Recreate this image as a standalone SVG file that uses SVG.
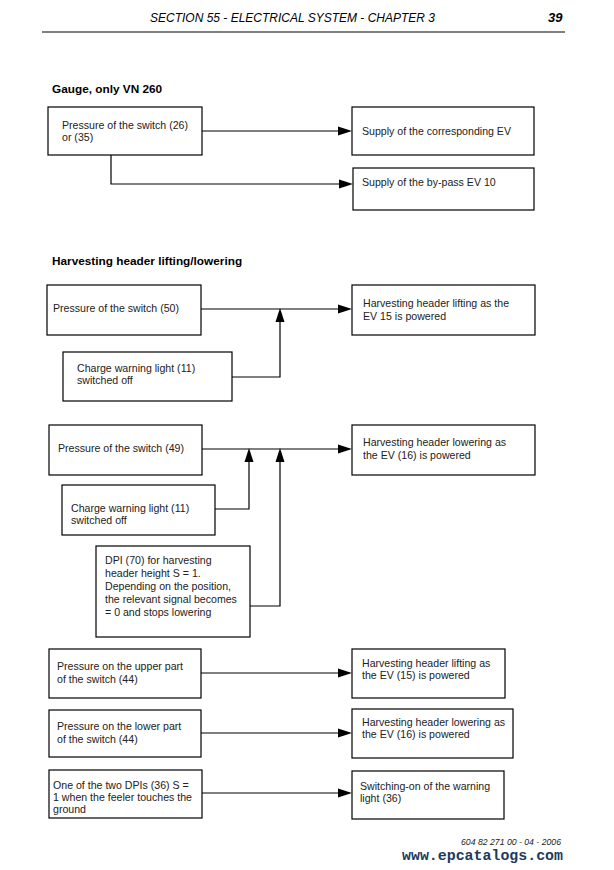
<svg xmlns="http://www.w3.org/2000/svg" width="614" height="870" viewBox="0 0 614 870">
<defs>
<style>
.t{font-family:"Liberation Sans",Arial,sans-serif;font-size:10.6px;fill:#222}
.h{font-family:"Liberation Sans",Arial,sans-serif;font-size:11.8px;font-weight:bold;fill:#000}
.box{fill:#fff;stroke:#000;stroke-width:1.2}
.ln{fill:none;stroke:#000;stroke-width:1.2}
.ah{fill:#000}
</style>
</defs>
<rect width="614" height="870" fill="#fff"/>
<g id="header">
<text x="150" y="22" font-family="Liberation Sans,Arial,sans-serif" font-size="12" font-style="italic" textLength="285" lengthAdjust="spacingAndGlyphs">SECTION 55 - ELECTRICAL SYSTEM - CHAPTER 3</text>
<text x="548" y="22" font-family="Liberation Sans,Arial,sans-serif" font-size="13" font-style="italic" font-weight="bold">39</text>
<line x1="42" y1="32" x2="565" y2="32" stroke="#000" stroke-width="1.2"/>
</g>
<text class="h" x="52" y="93">Gauge, only VN 260</text>
<text class="h" x="52" y="265">Harvesting header lifting/lowering</text>

<g id="connectors">
<path class="ln" d="M202 131H340"/>
<polygon class="ah" points="352,131 338,126.5 338,135.5"/>
<path class="ln" d="M111 155V184H341"/>
<polygon class="ah" points="353,184 339,179.5 339,188.5"/>

<path class="ln" d="M201 309H340"/>
<polygon class="ah" points="352,309 338,304.5 338,313.5"/>
<path class="ln" d="M232 377H280V320"/>
<polygon class="ah" points="280,308 275.5,322 284.5,322"/>

<path class="ln" d="M202 449H340"/>
<polygon class="ah" points="352,449 338,444.5 338,453.5"/>
<path class="ln" d="M215 509H249V460"/>
<polygon class="ah" points="249,448 244.5,462 253.5,462"/>
<path class="ln" d="M250 606H280V460"/>
<polygon class="ah" points="280,448 275.5,462 284.5,462"/>

<path class="ln" d="M201 673H340"/>
<polygon class="ah" points="352,673 338,668.5 338,677.5"/>
<path class="ln" d="M201 733H340"/>
<polygon class="ah" points="352,733 338,728.5 338,737.5"/>
<path class="ln" d="M202 793H340"/>
<polygon class="ah" points="352,793 338,788.5 338,797.5"/>
</g>

<g id="n1"><rect class="box" x="48" y="107" width="154" height="48"/>
<text class="t" x="62" y="129">Pressure of the switch (26)</text>
<text class="t" x="62" y="141">or (35)</text></g>
<g id="n2"><rect class="box" x="352" y="107" width="182" height="48"/>
<text class="t" x="362" y="135">Supply of the corresponding EV</text></g>
<g id="n3"><rect class="box" x="353" y="168" width="181" height="42"/>
<text class="t" x="362" y="186">Supply of the by-pass EV 10</text></g>

<g id="n4"><rect class="box" x="47" y="285" width="154" height="50"/>
<text class="t" x="53" y="312">Pressure of the switch (50)</text></g>
<g id="n5"><rect class="box" x="63" y="352" width="169" height="49"/>
<text class="t" x="77" y="372">Charge warning light (11)</text>
<text class="t" x="77" y="384">switched off</text></g>
<g id="n6"><rect class="box" x="352" y="285" width="183" height="50"/>
<text class="t" x="363" y="307">Harvesting header lifting as the</text>
<text class="t" x="363" y="320">EV 15 is powered</text></g>

<g id="n7"><rect class="box" x="49" y="425" width="153" height="50"/>
<text class="t" x="58" y="452">Pressure of the switch (49)</text></g>
<g id="n8"><rect class="box" x="352" y="425" width="183" height="50"/>
<text class="t" x="363" y="446">Harvesting header lowering as</text>
<text class="t" x="363" y="459">the EV (16) is powered</text></g>
<g id="n9"><rect class="box" x="62" y="485" width="153" height="50"/>
<text class="t" x="71" y="512">Charge warning light (11)</text>
<text class="t" x="71" y="524">switched off</text></g>
<g id="n10"><rect class="box" x="96" y="546" width="154" height="91"/>
<text class="t" x="105" y="564">DPI (70) for harvesting</text>
<text class="t" x="105" y="577">header height S = 1.</text>
<text class="t" x="105" y="590">Depending on the position,</text>
<text class="t" x="105" y="603">the relevant signal becomes</text>
<text class="t" x="105" y="616">= 0 and stops lowering</text></g>

<g id="n11"><rect class="box" x="49" y="649" width="152" height="49"/>
<text class="t" x="57" y="670">Pressure on the upper part</text>
<text class="t" x="57" y="683">of the switch (44)</text></g>
<g id="n12"><rect class="box" x="352" y="649" width="153" height="49"/>
<text class="t" x="362" y="667">Harvesting header lifting as</text>
<text class="t" x="362" y="679">the EV (15) is powered</text></g>
<g id="n13"><rect class="box" x="49" y="710" width="152" height="47"/>
<text class="t" x="57" y="730">Pressure on the lower part</text>
<text class="t" x="57" y="743">of the switch (44)</text></g>
<g id="n14"><rect class="box" x="352" y="709" width="161" height="49"/>
<text class="t" x="362" y="726">Harvesting header lowering as</text>
<text class="t" x="362" y="738">the EV (16) is powered</text></g>
<g id="n15"><rect class="box" x="49" y="770" width="153" height="48"/>
<text class="t" x="53" y="789">One of the two DPIs (36) S =</text>
<text class="t" x="53" y="801">1 when the feeler touches the</text>
<text class="t" x="53" y="813">ground</text></g>
<g id="n16"><rect class="box" x="352" y="771" width="152" height="48"/>
<text class="t" x="360" y="790">Switching-on of the warning</text>
<text class="t" x="360" y="802">light (36)</text></g>

<g id="footer">
<text x="461" y="845" font-family="Liberation Sans,Arial,sans-serif" font-size="8.5" font-style="italic" fill="#222" textLength="100" lengthAdjust="spacingAndGlyphs">604 82 271 00 - 04 - 2006</text>
<text x="402" y="860" font-family="Liberation Mono,Courier New,monospace" font-size="14.5" font-weight="bold" fill="#1c3a5e" textLength="161" lengthAdjust="spacingAndGlyphs">www.epcatalogs.com</text>
</g>
</svg>
